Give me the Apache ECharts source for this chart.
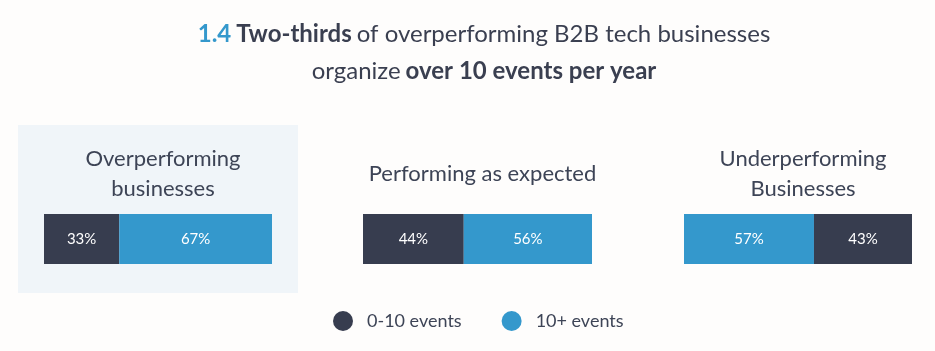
<!DOCTYPE html>
<html>
<head>
<meta charset="utf-8">
<script src="https://cdn.jsdelivr.net/npm/echarts@6/dist/echarts.min.js"></script>
<style>
  html, body { margin: 0; padding: 0; background: #fefdfc; }
  #chart { width: 935px; height: 351px; }
</style>
</head>
<body>
<div id="chart"></div>
<script>
// data
const groups = ['Overperforming\nbusinesses', 'Performing as expected', 'Underperforming\nBusinesses']
const lowShare = [33, 44, 43]   // 0-10 events
const highShare = [67, 56, 57]  // 10+ events
const seriesNames = ['0-10 events', '10+ events']

const DARK = '#373d4f'
const BLUE = '#3498cc'
const TEXT = '#3a3f50'
const FONT = 'Lato'

// panel geometry
const bars = [
  {left: 44, width: 228},
  {left: 363, width: 229},
  {left: 684, width: 228}
]
const titleTops = [139, 154, 139]

const chart = echarts.init(document.getElementById('chart'))

const grids = bars.map(b => ({left: b.left, width: b.width, top: 214, height: 50}))
const xAxes = bars.map((b, i) => ({gridIndex: i, type: 'value', min: 0, max: 100, show: false}))
const yAxes = bars.map((b, i) => ({gridIndex: i, type: 'category', data: [groups[i]], show: false}))

const barLabel = {show: true, color: '#fff', fontSize: 15, fontFamily: FONT, formatter: '{c}%'}
const series = []
groups.forEach((g, i) => {
  const low = {
    name: seriesNames[0], type: 'bar', stack: 's' + i, xAxisIndex: i, yAxisIndex: i,
    data: [lowShare[i]], barWidth: 50, itemStyle: {color: DARK}, label: barLabel
  }
  const high = {
    name: seriesNames[1], type: 'bar', stack: 's' + i, xAxisIndex: i, yAxisIndex: i,
    data: [highShare[i]], barWidth: 50, itemStyle: {color: BLUE}, label: barLabel
  }
  // last panel shows the blue part first
  if (i === 2) series.push(high, low)
  else series.push(low, high)
})

const richTitle = {
  n: {color: BLUE, fontWeight: 'bold', fontSize: 24, fontFamily: FONT},
  b: {color: TEXT, fontWeight: 'bold', fontSize: 24, fontFamily: FONT},
  r: {color: TEXT, fontWeight: 'normal', fontSize: 24, fontFamily: FONT}
}
const titles = [
  {
    text: '{n|1.4} {b|Two-thirds} {r|of overperforming B2B tech businesses}',
    left: 479, top: 17, textAlign: 'center',
    textStyle: {fontWeight: 'normal', rich: richTitle}
  },
  {
    text: '{r|organize} {b|over 10 events per year}',
    left: 479, top: 54, textAlign: 'center',
    textStyle: {fontWeight: 'normal', rich: richTitle}
  }
]
groups.forEach((g, i) => {
  titles.push({
    text: g,
    left: bars[i].left + bars[i].width / 2,
    top: titleTops[i],
    textAlign: 'center',
    textStyle: {color: '#3d4456', fontSize: 22, fontWeight: 'normal', fontFamily: FONT, lineHeight: 30}
  })
})

chart.setOption({
  backgroundColor: '#fefdfc',
  animation: false,
  title: titles,
  graphic: [{
    type: 'rect', z: -1,
    shape: {x: 18, y: 125, width: 280, height: 168},
    style: {fill: '#f0f5f9'}
  }],
  legend: {
    data: seriesNames,
    left: 333, top: 311, padding: 0,
    icon: 'circle', itemWidth: 20, itemHeight: 20, itemGap: 40,
    textStyle: {color: '#3d4456', fontSize: 18, fontFamily: FONT, padding: [0, 0, 0, 9]}
  },
  color: [DARK, BLUE],
  grid: grids,
  xAxis: xAxes,
  yAxis: yAxes,
  series: series
})
</script>
</body>
</html>
